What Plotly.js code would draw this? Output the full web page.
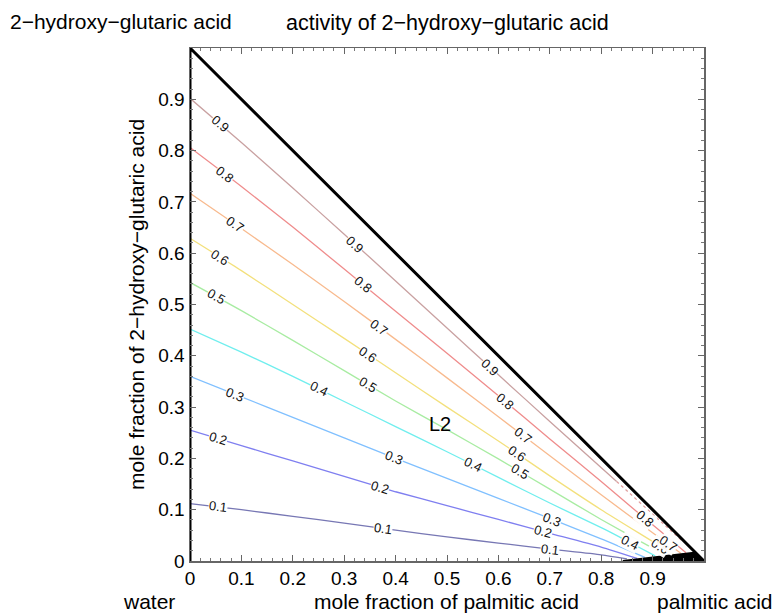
<!DOCTYPE html>
<html>
<head>
<meta charset="utf-8">
<script src="https://cdn.plot.ly/plotly-3.0.1.min.js"></script>
<style>html,body{margin:0;padding:0;background:#fff;}#chart{width:784px;height:615px;}</style>
</head>
<body>
<div id="chart"></div>
<script>
// ---- data: contour levels of activity of 2-hydroxy-glutaric acid ----
const levels = [0.1, 0.2, 0.3, 0.4, 0.5, 0.6, 0.7, 0.8, 0.9];
const levelColors = ['#7777b4', '#7f7ff0', '#80c0ff', '#70eeee', '#a8eca2', '#f3e07c', '#f8ba8e', '#ef8c8c', '#c9a1a1'];

const c1x = [0, 0.1, 0.2, 0.3, 0.4, 0.5, 0.6, 0.7, 0.8, 0.85];
const c1y = [0.112, 0.1, 0.087, 0.074, 0.06, 0.047, 0.035, 0.023, 0.012, 0.004];
const c2x = [0, 0.1, 0.2, 0.3, 0.4, 0.5, 0.6, 0.7, 0.8, 0.87];
const c2y = [0.255, 0.225, 0.195, 0.165, 0.135, 0.108, 0.081, 0.054, 0.027, 0.005];
const c3x = [0, 0.1, 0.2, 0.3, 0.4, 0.5, 0.6, 0.7, 0.8, 0.885];
const c3y = [0.36, 0.32, 0.28, 0.24, 0.2, 0.161, 0.122, 0.083, 0.043, 0.007];
const c4x = [0, 0.1, 0.2, 0.3, 0.4, 0.5, 0.6, 0.7, 0.8, 0.856, 0.905];
const c4y = [0.452, 0.407, 0.36, 0.311, 0.262, 0.213, 0.163, 0.113, 0.065, 0.036, 0.01];
const c5x = [0, 0.1, 0.2, 0.3, 0.4, 0.5, 0.6, 0.7, 0.8, 0.9, 0.925];
const c5y = [0.543, 0.488, 0.43, 0.371, 0.312, 0.256, 0.199, 0.14, 0.081, 0.025, 0.011];
const c6x = [0, 0.1, 0.2, 0.3, 0.4, 0.5, 0.6, 0.7, 0.8, 0.9, 0.94];
const c6y = [0.629, 0.566, 0.5, 0.434, 0.367, 0.3, 0.234, 0.166, 0.1, 0.038, 0.013];
const c7x = [0, 0.1, 0.2, 0.3, 0.4, 0.5, 0.6, 0.7, 0.8, 0.9, 0.955];
const c7y = [0.717, 0.648, 0.578, 0.506, 0.432, 0.357, 0.281, 0.205, 0.129, 0.055, 0.015];
const c8x = [0, 0.1, 0.2, 0.3, 0.4, 0.5, 0.6, 0.7, 0.8, 0.88, 0.93, 0.965];
const c8y = [0.806, 0.73, 0.651, 0.569, 0.487, 0.405, 0.322, 0.238, 0.155, 0.087, 0.046, 0.016];
const c9x = [0, 0.1, 0.2, 0.3, 0.4, 0.5, 0.6, 0.7, 0.83];
const c9y = [0.902, 0.816, 0.727, 0.637, 0.546, 0.454, 0.363, 0.272, 0.155];
// dashed continuation of the 0.9 contour near the boundary
const c9dx = [0.83, 0.9, 0.96];
const c9dy = [0.155, 0.092, 0.037];

// x positions of the inline contour labels, per level
const labelAt = [
  [0.055, 0.375, 0.70],
  [0.055, 0.37, 0.687],
  [0.087, 0.396, 0.704],
  [0.25, 0.551, 0.856],
  [0.051, 0.346, 0.642],
  [0.058, 0.346, 0.636, 0.915],
  [0.088, 0.368, 0.648, 0.93],
  [0.068, 0.337, 0.613, 0.885],
  [0.058, 0.321, 0.584]
];

// phase boundaries
const triX = [0, 0, 1];
const triY = [0, 1, 0];
const lowX = [0.842, 0.98, 1];
const lowY = [0, 0.016, 0];

const xTicks = [0, 0.1, 0.2, 0.3, 0.4, 0.5, 0.6, 0.7, 0.8, 0.9];
const xTickText = ['0', '0.1', '0.2', '0.3', '0.4', '0.5', '0.6', '0.7', '0.8', '0.9'];
const yTicks = [0, 0.1, 0.2, 0.3, 0.4, 0.5, 0.6, 0.7, 0.8, 0.9];
const yTickText = ['0', '0.1', '0.2', '0.3', '0.4', '0.5', '0.6', '0.7', '0.8', '0.9'];

// ---- build ----
const W = 784, H = 615;
const M = {l: 190, r: 80, t: 48, b: 54};
const plotW = W - M.l - M.r, plotH = H - M.t - M.b;
const FAM = 'Liberation Sans, Arial, sans-serif';

const cx = [c1x, c2x, c3x, c4x, c5x, c6x, c7x, c8x, c9x];
const cy = [c1y, c2y, c3y, c4y, c5y, c6y, c7y, c8y, c9y];

const traces = [];
levels.forEach((lv, i) => {
  traces.push({
    x: cx[i], y: cy[i], type: 'scatter', mode: 'lines',
    line: {color: levelColors[i], width: 1.3, shape: 'spline', smoothing: 0.6},
    hoverinfo: 'skip', showlegend: false
  });
});
traces.push({
  x: c9dx, y: c9dy, type: 'scatter', mode: 'lines',
  line: {color: '#e0a0a0', width: 1.3, dash: 'dot'},
  hoverinfo: 'skip', showlegend: false
});
traces.push({
  x: lowX, y: lowY, type: 'scatter', mode: 'lines', fill: 'toself', fillcolor: '#000',
  line: {color: '#000', width: 2}, hoverinfo: 'skip', showlegend: false, cliponaxis: false
});
traces.push({
  x: triX, y: triY, type: 'scatter', mode: 'lines',
  line: {color: '#000', width: 3}, hoverinfo: 'skip', showlegend: false, cliponaxis: false
});

function interp(xs, ys, x) {
  for (let k = 0; k < xs.length - 1; k++) {
    if (x >= xs[k] && x <= xs[k + 1]) {
      const s = (ys[k + 1] - ys[k]) / (xs[k + 1] - xs[k]);
      return {y: ys[k] + s * (x - xs[k]), s: s};
    }
  }
  const n = xs.length - 1;
  const s = (ys[n] - ys[n - 1]) / (xs[n] - xs[n - 1]);
  return {y: ys[n] + s * (x - xs[n]), s: s};
}

const annotations = [];
levels.forEach((lv, i) => {
  labelAt[i].forEach(lx => {
    const r = interp(cx[i], cy[i], lx);
    const ang = Math.atan(-r.s * plotH / plotW) * 180 / Math.PI;
    annotations.push({
      x: lx, y: r.y, xref: 'x', yref: 'y', text: String(lv), showarrow: false,
      textangle: ang, bgcolor: 'rgba(255,255,255,0.95)', borderpad: 0,
      font: {family: FAM, size: 13, color: '#111'}
    });
  });
});

const px2x = p => (p - M.l) / plotW;
const py2y = p => (H - M.b - p) / plotH;
const bigFont = {family: FAM, size: 21, color: '#000'};
annotations.push({x: 0.486, y: 0.267, xref: 'x', yref: 'y', text: 'L2', showarrow: false,
  font: {family: FAM, size: 20, color: '#000'}});
annotations.push({x: px2x(8), y: py2y(21), xref: 'paper', yref: 'paper', text: '2−hydroxy−glutaric acid',
  showarrow: false, xanchor: 'left', yanchor: 'middle', font: {family: FAM, size: 21, color: '#000'}});
annotations.push({x: px2x(149), y: py2y(601), xref: 'paper', yref: 'paper', text: 'water',
  showarrow: false, xanchor: 'center', yanchor: 'middle', font: bigFont});
annotations.push({x: px2x(446), y: py2y(601), xref: 'paper', yref: 'paper', text: 'mole fraction of palmitic acid',
  showarrow: false, xanchor: 'center', yanchor: 'middle', font: bigFont});
annotations.push({x: px2x(655), y: py2y(601), xref: 'paper', yref: 'paper', text: 'palmitic acid',
  showarrow: false, xanchor: 'left', yanchor: 'middle', font: bigFont});

const axisCommon = {
  range: [0, 1], showgrid: false, zeroline: false, showline: true, linecolor: '#666', linewidth: 1.5,
  mirror: 'ticks', ticks: 'inside', ticklen: 6, tickwidth: 1, tickcolor: '#666',
  minor: {ticks: 'inside', dtick: 0.02, ticklen: 3, tickcolor: '#777', tickwidth: 1},
  tickfont: {family: FAM, size: 19, color: '#000'},
  fixedrange: true
};

const layout = {
  width: W, height: H, margin: M, paper_bgcolor: '#fff', plot_bgcolor: '#fff',
  title: {text: 'activity of 2−hydroxy−glutaric acid', x: 286 / W, xanchor: 'left', xref: 'container',
    y: 1 - 22 / H, yanchor: 'middle', yref: 'container',
    font: {family: FAM, size: 21.5, color: '#000'}},
  xaxis: Object.assign({}, axisCommon, {tickvals: xTicks, ticktext: xTickText}),
  yaxis: Object.assign({}, axisCommon, {tickvals: yTicks, ticktext: yTickText,
    title: {text: 'mole fraction of 2−hydroxy−glutaric acid', font: {family: FAM, size: 21, color: '#000'}, standoff: 8}}),
  annotations: annotations,
  showlegend: false
};

Plotly.newPlot('chart', traces, layout, {displayModeBar: false, staticPlot: true});
</script>
</body>
</html>
